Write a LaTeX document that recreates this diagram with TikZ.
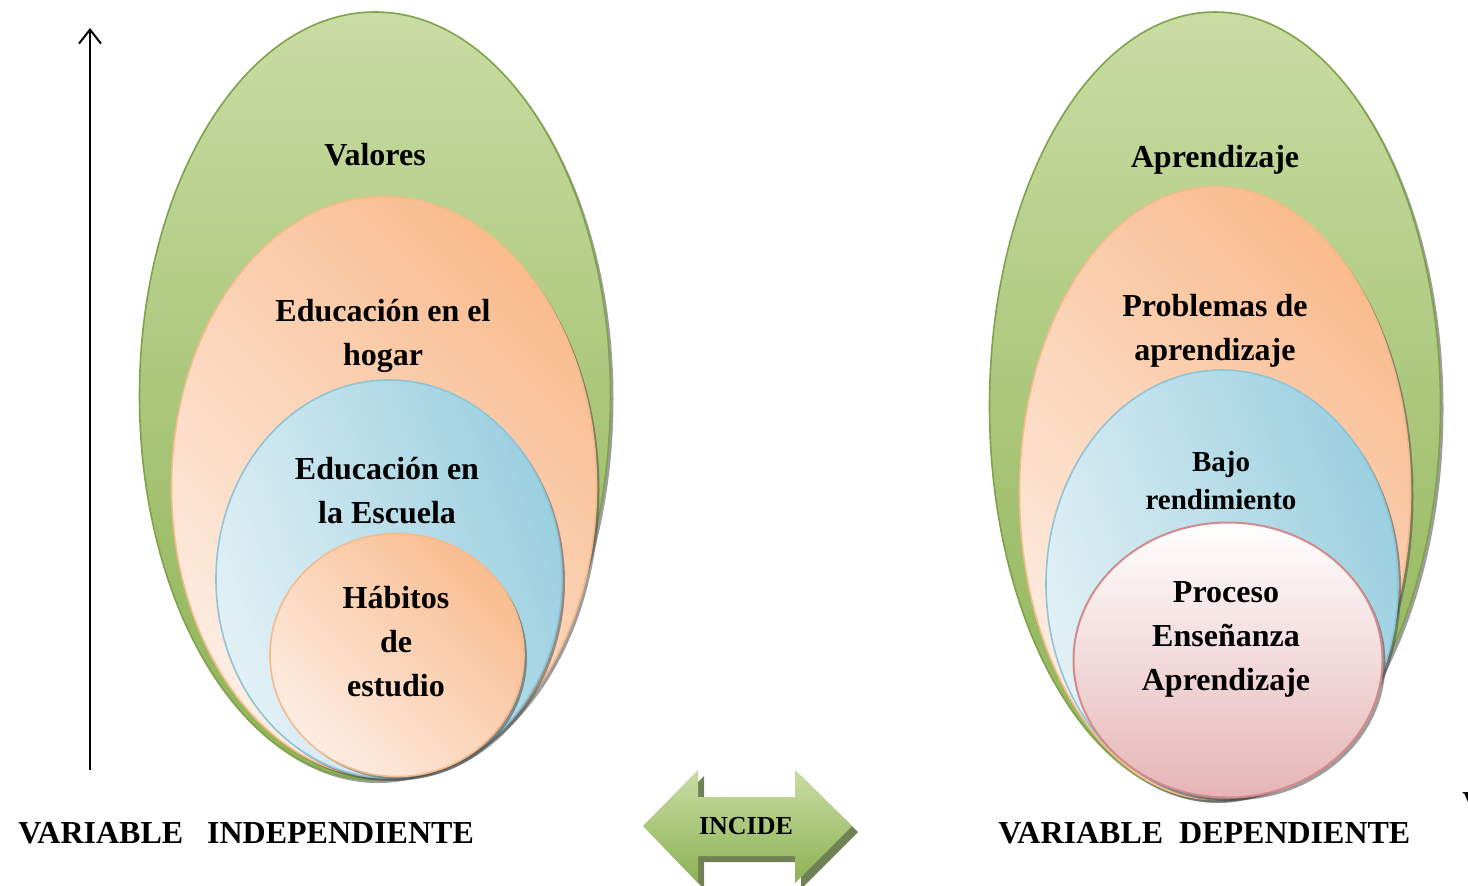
\documentclass[tikz,border=0pt]{standalone}
\usepackage{fontspec}
\setmainfont{Liberation Serif}
\usetikzlibrary{shapes.geometric,shadows,arrows.meta}

\definecolor{verdeA}{HTML}{C9DCA3}
\definecolor{verdeB}{HTML}{8DB254}
\definecolor{verdeL}{HTML}{7FA24A}
\definecolor{naranjaA}{HTML}{FDEDE2}
\definecolor{naranjaB}{HTML}{F9BC8F}
\definecolor{naranjaL}{HTML}{F5B98A}
\definecolor{azulA}{HTML}{E3F1F6}
\definecolor{azulB}{HTML}{9ACFDF}
\definecolor{azulL}{HTML}{8CC4D8}
\definecolor{rosaA}{HTML}{FFFFFF}
\definecolor{rosaB}{HTML}{E5B5B6}
\definecolor{rosaL}{HTML}{D4898B}

\tikzset{
  sombra/.style={drop shadow={shadow xshift=1.5pt,shadow yshift=-1.5pt,opacity=.55,fill=black!70}},
  verde/.style={ellipse,draw=verdeL,line width=.8pt,top color=verdeA,bottom color=verdeB,sombra,inner sep=0pt,outer sep=0pt},
  naranja/.style={ellipse,draw=naranjaL,line width=.8pt,left color=naranjaA,right color=naranjaB,shading angle=135,sombra,inner sep=0pt,outer sep=0pt},
  azul/.style={ellipse,draw=azulL,line width=.8pt,left color=azulA,right color=azulB,shading angle=110,sombra,inner sep=0pt,outer sep=0pt},
  rosa/.style={ellipse,draw=rosaL,line width=1pt,top color=rosaA,bottom color=rosaB,sombra,inner sep=0pt,outer sep=0pt},
  texto/.style={align=center,font=\bfseries\fontsize{16}{22}\selectfont},
  titulo/.style={font=\bfseries\fontsize{16}{20}\selectfont}
}

\begin{document}
\begin{tikzpicture}[x=0.5pt,y=-0.5pt]
\useasboundingbox (0,0) rectangle (1468,885);

% variable independiente
\node[verde, minimum width=235.5pt, minimum height=384pt] (g1) at (375,396) {};
\node[naranja, minimum width=212.5pt, minimum height=290.5pt] (o1) at (384,487) {};
\node[azul, minimum width=173pt, minimum height=199pt] (b1) at (389,579) {};
\node[naranja, minimum width=127pt, minimum height=121.5pt] (h1) at (397,655) {};

\node[texto] (t1) at (375,155) {Valores};
\node[texto] (t2) at (383,336) {Educación en el\\hogar};
\node[texto] (t3) at (387,491) {Educación en\\la Escuela};
\node[texto] (t4) at (396,642) {Hábitos\\de\\estudio};

% variable dependiente
\node[verde, minimum width=225.5pt, minimum height=394pt] (g2) at (1215,406) {};
\node[naranja, minimum width=195.5pt, minimum height=306.5pt] (o2) at (1215,493) {};
\node[azul, minimum width=176pt, minimum height=214pt] (b2) at (1222,584) {};
\node[rosa, minimum width=154.5pt, minimum height=137.5pt] (p2) at (1228,660) {};

\node[texto] (u1) at (1215,160) {Aprendizaje};
\node[texto] (u2) at (1215,331) {Problemas de\\aprendizaje};
\node[texto, font=\bfseries\fontsize{14.5}{19}\selectfont] (u3) at (1221,481) {Bajo\\rendimiento};
\node[texto] (u4) at (1226,639) {Proceso\\Enseñanza\\Aprendizaje};

% flecha vertical
\coordinate (a0) at (90,770);
\coordinate (a1) at (90,28);
\draw[line width=1pt, -{Straight Barb[length=7pt,width=11pt]}] (a0) -- (a1);

% incide
\fill[verdeL!60!black, opacity=.8] (649,832) -- (704,776) -- (704,803) -- (801,803) -- (801,776) -- (858,832) -- (801,889) -- (801,862) -- (704,862) -- (704,889) -- cycle;
\shade[top color=verdeA, bottom color=verdeB] (643,826) -- (698,770) -- (698,797) -- (795,797) -- (795,770) -- (852,826) -- (795,883) -- (795,856) -- (698,856) -- (698,883) -- cycle;
\node[font=\bfseries\fontsize{13}{15}\selectfont] (inc) at (746,826) {INCIDE};

\node[titulo, anchor=west, inner sep=0pt] (vi) at (18,833) {VARIABLE\hspace{12pt}INDEPENDIENTE};
\node[titulo, anchor=west, inner sep=0pt] (vd) at (998,833) {VARIABLE\ \ DEPENDIENTE};
\node[titulo, anchor=base west, inner sep=0pt] (vx) at (1462,813) {V};
\end{tikzpicture}
\end{document}
